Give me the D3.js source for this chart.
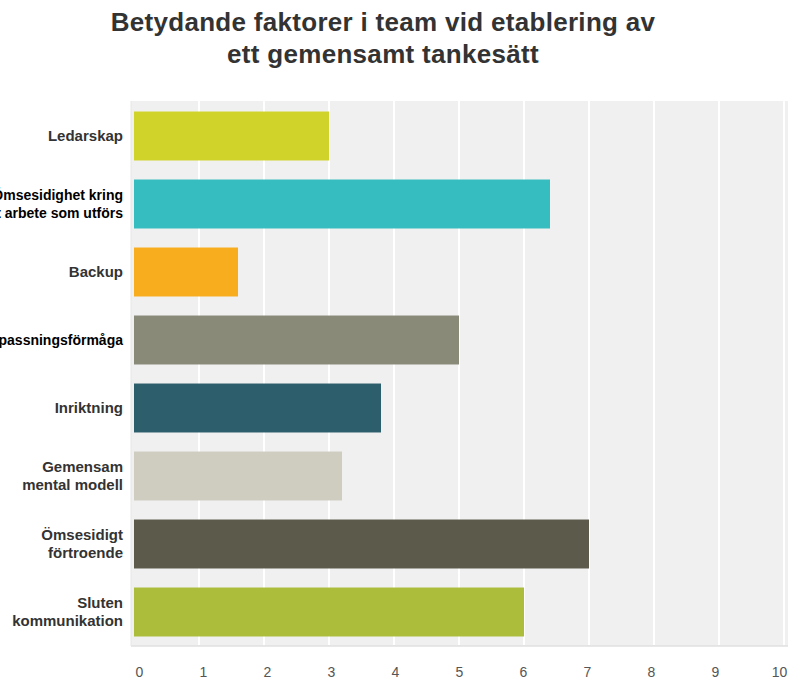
<!DOCTYPE html>
<html><head><meta charset="utf-8">
<script src="https://cdn.jsdelivr.net/npm/d3@7"></script>
<style>body{margin:0;background:#fff;}svg{display:block;}</style>
</head><body>
<svg id="c" width="788" height="679"></svg>
<script>
const categories = [
  ["Ledarskap"],
  ["Ömsesidighet kring", "det arbete som utförs"],
  ["Backup"],
  ["Anpassningsförmåga"],
  ["Inriktning"],
  ["Gemensam", "mental modell"],
  ["Ömsesidigt", "förtroende"],
  ["Sluten", "kommunikation"]
];
const values = [3.0, 6.4, 1.6, 5.0, 3.8, 3.2, 7.0, 6.0];
const colors = ["#d0d42a", "#35bdbf", "#f7ad1e", "#8a8a78", "#2d5e6b", "#cfcdc0", "#5c5a4a", "#abbd3a"];
const labelColors = ["#333", "#000", "#333", "#000", "#333", "#333", "#333", "#333"];
const labelSizes = [15, 14, 15, 14, 15, 15, 15, 15];
const ticks = [0,1,2,3,4,5,6,7,8,9,10];
const titleLines = ["Betydande faktorer i team vid etablering av", "ett gemensamt tankesätt"];

const svg = d3.select("#c");
const font = "Arial, 'Liberation Sans', sans-serif";
const x = d3.scaleLinear().domain([0,10]).range([134, 784]);
const xLab = d3.scaleLinear().domain([0,10]).range([139, 779]);
const y = d3.scaleBand().domain(d3.range(categories.length)).range([102, 646]).paddingInner(0.28).paddingOuter(0.14);

// background
svg.append("rect").attr("x", 131).attr("y", 101).attr("width", 788-131).attr("height", 545).attr("fill", "#f0f0f0");
svg.append("line").attr("x1", 131).attr("x2", 788).attr("y1", 646).attr("y2", 646).attr("stroke", "#e0e0e0").attr("stroke-width", 1.5);
svg.append("line").attr("x1", 131).attr("x2", 131).attr("y1", 101).attr("y2", 646).attr("stroke", "#e6e6e6").attr("stroke-width", 1);

// grid
svg.append("g").selectAll("line").data(ticks.slice(1)).join("line")
  .attr("x1", d => x(d)).attr("x2", d => x(d)).attr("y1", 101).attr("y2", 645)
  .attr("stroke", "#fff").attr("stroke-width", 2);

// bars
svg.append("g").selectAll("rect").data(values).join("rect")
  .attr("x", x(0)).attr("y", (d,i) => y(i)).attr("width", d => x(d) - x(0)).attr("height", y.bandwidth())
  .attr("fill", (d,i) => colors[i]);

// x axis labels
const xa = d3.axisBottom(xLab).tickValues(ticks).tickSize(0).tickPadding(0);
const gx = svg.append("g").attr("transform", "translate(0,677)").call(xa);
gx.select(".domain").remove();
gx.selectAll("text").attr("font-family", font).attr("font-size", 14).attr("fill", "#555").attr("dy", "0");

// y labels
const gy = svg.append("g");
categories.forEach((lines, i) => {
  const cy = y(i) + y.bandwidth()/2;
  const n = lines.length;
  const t = gy.append("text").attr("text-anchor", "end").attr("font-family", font)
    .attr("font-size", labelSizes[i]).attr("font-weight", "bold").attr("fill", labelColors[i]);
  lines.forEach((l, j) => {
    t.append("tspan").attr("x", 123).attr("y", cy + (j - (n-1)/2) * 18.5 + 5).text(l);
  });
});

// title
const tt = svg.append("text").attr("text-anchor", "middle").attr("font-family", font)
  .attr("font-size", 26).attr("font-weight", "bold").attr("fill", "#333").attr("letter-spacing", 0.3);
titleLines.forEach((l, j) => tt.append("tspan").attr("x", 383).attr("y", 31 + j*32).text(l));
</script>
</body></html>
